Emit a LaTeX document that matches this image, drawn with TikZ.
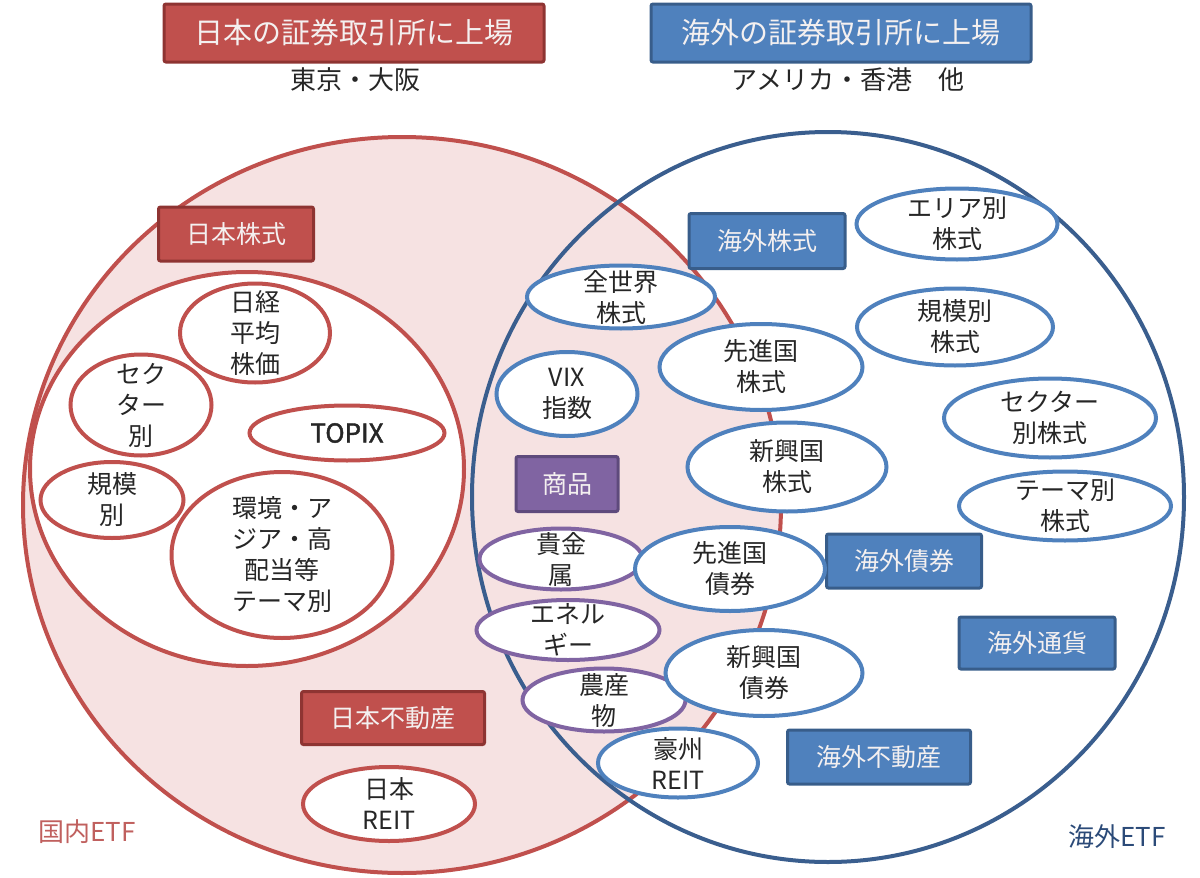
\documentclass[tikz,border=0pt]{standalone}
\usepackage{fontspec}
\setmainfont{Noto Sans CJK JP}
\newfontfamily\jpbold[FakeBold=1.6]{Noto Sans CJK JP}
\usepackage{tikz}
\usetikzlibrary{shapes.geometric}
\definecolor{redmain}{HTML}{C0504D}
\definecolor{rededge}{HTML}{8E3432}
\definecolor{pinkbg}{HTML}{F6E2E2}
\definecolor{bluemain}{HTML}{4F81BD}
\definecolor{blueedge}{HTML}{385D8A}
\definecolor{bluering}{HTML}{3A5E8E}
\definecolor{purplemain}{HTML}{8064A2}
\definecolor{purpleedge}{HTML}{5E4A7C}
\definecolor{ink}{HTML}{262626}
\definecolor{boxtext}{HTML}{F4F0F0}
\definecolor{domtext}{HTML}{C0605E}
\definecolor{osstext}{HTML}{2B4A78}
\tikzset{
  sz/.style 2 args = {minimum width=#1pt,minimum height=#2pt},
  ring/.style      = {ellipse,line width=4pt,inner sep=0pt},
  catbox/.style    = {line width=3pt,rounded corners=2pt,inner sep=0pt,
                      text=boxtext,font=\fontsize{25}{30}\selectfont},
  head/.style      = {font=\fontsize{29}{34}\selectfont},
  redbox/.style    = {catbox,draw=rededge,fill=redmain},
  bluebox/.style   = {catbox,draw=blueedge,fill=bluemain},
  purplebox/.style = {catbox,draw=purpleedge,fill=purplemain},
  ovltxt/.style    = {align=center,text=ink,font=\fontsize{25}{31}\selectfont},
  ovl/.style       = {ellipse,line width=4pt,fill=white,inner sep=0pt},
  redovl/.style    = {ovl,draw=redmain},
  blueovl/.style   = {ovl,draw=bluemain},
  purpleovl/.style = {ovl,draw=purplemain},
  subhd/.style     = {text=ink,font=\fontsize{26}{30}\selectfont},
  etf/.style       = {font=\fontsize{26}{30}\selectfont},
}

\begin{document}
\begin{tikzpicture}[x=1pt,y=-1pt]
  \useasboundingbox (0,0) rectangle (1200,878);

  % Domestic and overseas rings
  \node[ring,draw=redmain,fill=pinkbg,sz={758}{736}] (dom) at (402,505) {};
  \node[ring,draw=redmain,fill=white,sz={434}{394}] (jpeq) at (247,469) {};
  \node[ring,draw=bluering,sz={712}{730}] (oss) at (828,497) {};

  % Exchange headings
  \node[redbox,head,sz={380}{58}] (hjp) at (354,33) {日本の証券取引所に上場};
  \node[subhd] (hjpsub) at (355,80) {東京・大阪};
  \node[bluebox,head,sz={380}{58}] (hos) at (841,33) {海外の証券取引所に上場};
  \node[subhd] (hossub) at (848,80) {アメリカ・香港　他};

  % Category boxes
  \node[redbox,sz={155}{54}] (bjpeq) at (236,234) {日本株式};
  \node[redbox,sz={183}{53}] (bjpre) at (393,718) {日本不動産};
  \node[bluebox,sz={156}{55}] (boseq) at (767,241) {海外株式};
  \node[purplebox,sz={102}{55}] (bcomm) at (567,484) {商品};
  \node[bluebox,sz={155}{54}] (bosbd) at (904,561) {海外債券};
  \node[bluebox,sz={156}{52}] (bosfx) at (1037,643) {海外通貨};
  \node[bluebox,sz={183}{54}] (bosre) at (879,757) {海外不動産};

  % Japanese funds
  \foreach \n/\x/\y/\w/\h/\t in {
      nikkei/255/333/150/99/{日経\\平均\\株価},
      jpsect/141/405/141/101/{セク\\ター\\別},
      jpsize/112/500/143/76/{規模\\別},
      jptheme/282/555/221/166/{環境・ア\\ジア・高\\配当等\\テーマ別},
      jpreit/389/804/172/74/{日本\\REIT}}
    \node[redovl,sz={\w}{\h},label={[ovltxt]center:\t}] (\n) at (\x,\y) {};
  \node[redovl,sz={195}{55},
        label={[ovltxt,font=\jpbold\fontsize{26}{30}\selectfont]center:TOPIX}]
       (topix) at (347,433) {};

  % Commodities
  \foreach \n/\x/\y/\w/\h/\t in {
      kikin/561/559/163/61/{貴金\\属},
      energy/568/630/183/60/{エネル\\ギー},
      agri/604/700/163/63/{農産\\物}}
    \node[purpleovl,sz={\w}{\h},label={[ovltxt]center:\t}] (\n) at (\x,\y) {};

  % Overseas funds
  \foreach \n/\x/\y/\w/\h/\t in {
      world/621/297/188/63/{全世界\\株式},
      vix/567/394/141/84/{VIX\\指数},
      dveq/761/367/203/86/{先進国\\株式},
      emeq/787/467/199/89/{新興国\\株式},
      dvbd/730/569/190/84/{先進国\\債券},
      embd/764/673/197/86/{新興国\\債券},
      aureit/678/763/160/69/{豪州\\REIT},
      areaeq/957/224/201/71/{エリア別\\株式},
      sizeeq/955/327/196/77/{規模別\\株式},
      secteq/1050/418/212/79/{セクター\\別株式},
      themeeq/1065/506/212/69/{テーマ別\\株式}}
    \node[blueovl,sz={\w}{\h},label={[ovltxt]center:\t}] (\n) at (\x,\y) {};

  % Corner labels
  \node[etf,text=domtext] (ldom) at (87,832) {国内ETF};
  \node[etf,text=osstext] (loss) at (1117,837) {海外ETF};
\end{tikzpicture}
\end{document}
